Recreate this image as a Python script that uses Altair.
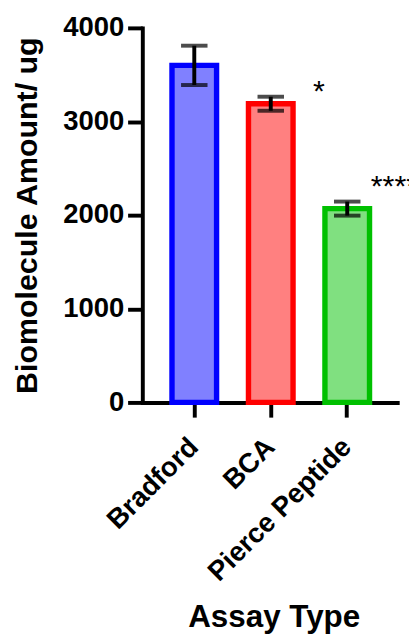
import altair as alt
import pandas as pd

categories = ["Bradford", "BCA", "Pierce Peptide"]
means = [3600, 3190, 2070]
errors = [210, 75, 75]
sig_labels = ["", "*", "****"]
fill_colors = ["#8080FF", "#FF8080", "#80E080"]
stroke_colors = ["#0000FF", "#FF0000", "#00C000"]
y_ticks = [0, 1000, 2000, 3000, 4000]

df = pd.DataFrame({
    "assay": categories,
    "mean": means,
    "lower": [m - e for m, e in zip(means, errors)],
    "upper": [m + e for m, e in zip(means, errors)],
    "sig": sig_labels,
})

FONT = "Liberation Sans"

x_enc = alt.X(
    "assay:N",
    sort=categories,
    title="Assay Type",
    scale=alt.Scale(paddingInner=0.417, paddingOuter=0.388),
    axis=alt.Axis(
        labelAngle=-45, labelAlign="right", labelBaseline="middle", labelLimit=0,
        labelFont=FONT, labelFontSize=28, labelFontWeight="bold", labelColor="black",
        labelPadding=26,
        titleFont=FONT, titleFontSize=32, titleFontWeight="bold", titleColor="black",
        titlePadding=16, titleX=134,
        domainColor="black", domainWidth=4,
        tickColor="black", tickWidth=4, tickSize=15,
        grid=False,
    ),
)
y_scale = alt.Scale(domain=[0, 4000], nice=False)
y_axis = alt.Axis(
    values=y_ticks, format="d",
    labelFont=FONT, labelFontSize=28, labelFontWeight="bold", labelColor="black",
    labelPadding=4,
    titleFont=FONT, titleFontSize=31, titleFontWeight="bold", titleColor="black",
    titlePadding=20,
    domainColor="black", domainWidth=4, domainCap="square",
    tickColor="black", tickWidth=4, tickSize=15,
    grid=False,
)

base = alt.Chart(df)

bars = base.mark_bar(strokeWidth=5.5).encode(
    x=x_enc,
    y=alt.Y("mean:Q", scale=y_scale, axis=y_axis, title="Biomolecule Amount/ ug"),
    fill=alt.Fill("assay:N", scale=alt.Scale(domain=categories, range=fill_colors), legend=None),
    stroke=alt.Stroke("assay:N", scale=alt.Scale(domain=categories, range=stroke_colors), legend=None),
)

stems = base.mark_rule(color="black", strokeWidth=4).encode(
    x=alt.X("assay:N", sort=categories),
    y="lower:Q",
    y2="upper:Q",
)

caps_hi = base.mark_tick(color="black", thickness=4, size=27).encode(
    x=alt.X("assay:N", sort=categories),
    y="upper:Q",
)
caps_lo = base.mark_tick(color="black", thickness=4, size=27).encode(
    x=alt.X("assay:N", sort=categories),
    y="lower:Q",
)

star1 = base.transform_filter(alt.datum.sig == "*").mark_text(
    font=FONT, fontSize=31, align="left", baseline="alphabetic", dx=43, dy=4, color="black"
).encode(x=alt.X("assay:N", sort=categories), y="upper:Q", text="sig:N")

star4 = base.transform_filter(alt.datum.sig == "****").mark_text(
    font=FONT, fontSize=31, align="left", baseline="alphabetic", dx=24, dy=-6, color="black"
).encode(x=alt.X("assay:N", sort=categories), y="upper:Q", text="sig:N")

chart = alt.layer(bars, stems, caps_hi, caps_lo, star1, star4).properties(
    width=262,
    height=382,
    autosize=alt.AutoSizeParams(type="none"),
    padding={"left": 137, "top": 14, "right": 10, "bottom": 235},
    background="white",
).configure_view(stroke=None)

chart.save("out.html", embed_options={"renderer": "svg", "actions": False})
